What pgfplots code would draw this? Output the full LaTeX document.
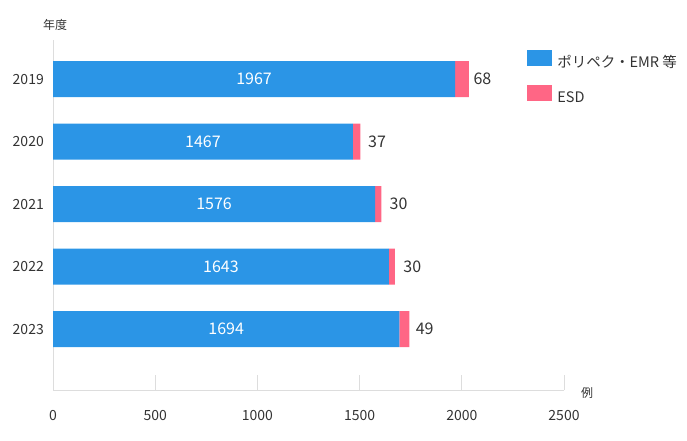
\documentclass[border=0pt]{standalone}
\usepackage{fontspec}
\setmainfont{Noto Sans CJK JP}
\usepackage{pgfplots}
\usepackage{pgfplotstable}
\pgfplotsset{compat=1.18}
\definecolor{cblue}{HTML}{2B95E6}
\definecolor{cpink}{HTML}{FF6685}
\definecolor{cgrid}{HTML}{DDDDDD}
\definecolor{ctext}{HTML}{333333}
\pgfplotstableread{
idx year emr esd
0 2019 1967 68
1 2020 1467 37
2 2021 1576 30
3 2022 1643 30
4 2023 1694 49
}\datatable
\begin{document}
\begin{tikzpicture}[x=1pt,y=1pt]
\path[use as bounding box] (0,0) rectangle (687,-440);
\pgfplotsset{base/.style={scale only axis, width=511pt, height=350pt,
  xmin=0, xmax=2500, ymin=-0.624, ymax=4.976, y dir=reverse,
  at={(53pt,-390pt)}, anchor=south west,
  /pgf/number format/assume math mode=true, /pgf/number format/1000 sep={}}}
\begin{axis}[base, xbar stacked, bar width=36pt,
  axis x line=bottom, axis y line=left,
  axis line style={draw=cgrid, line width=1pt, -},
  xtick={0,500,...,2500}, tick align=inside, major tick length=15pt,
  xtick style={draw=cgrid, line width=1pt},
  ytick={0,...,4}, yticklabels={2019,2020,2021,2022,2023}, ytick style={draw=none},
  tick label style={font=\fontsize{14}{14}\selectfont, text=ctext},
  xticklabel style={inner sep=0pt, anchor=north, yshift=-20pt},
  yticklabel style={inner sep=0pt, anchor=east, xshift=-9pt},
  legend style={at={(axis description cs:0.928,0.971)}, anchor=north west,
    draw=none, fill=none, inner sep=0pt, row sep=14pt, column sep=5pt,
    nodes={inner sep=0pt, text height=12pt, text depth=4pt, anchor=west},
    font=\fontsize{14.5}{14.5}\selectfont, text=ctext},
  legend cell align=left,
  legend image code/.code={\fill[#1] (0pt,-3pt) rectangle (25pt,13pt);},
]
\addplot[fill=cblue, draw=none] table[x=emr, y=idx]{\datatable};
\addlegendentry{ポリペク・EMR 等}
\addplot[fill=cpink, draw=none, nodes near coords, point meta=explicit,
  every node near coord/.append style={anchor=west, xshift=8pt, text=ctext,
  font=\fontsize{16}{16}\selectfont}]
  table[x=esd, y=idx, meta=esd]{\datatable};
\addlegendentry{ESD}
\end{axis}
\begin{axis}[base, hide axis]
\addplot[only marks, mark=*, mark size=0pt, mark options={draw=none, fill=none},
  nodes near coords, point meta=explicit,
  every node near coord/.append style={anchor=center, text=white,
  font=\fontsize{16}{16}\selectfont}]
  table[x expr=\thisrow{emr}/2, y=idx, meta=emr]{\datatable};
\end{axis}
\node[font=\fontsize{12}{12}\selectfont, text=ctext] at (55,-25) {年度};
\node[font=\fontsize{12}{12}\selectfont, text=ctext] at (587,-393) {例};
\end{tikzpicture}
\end{document}
